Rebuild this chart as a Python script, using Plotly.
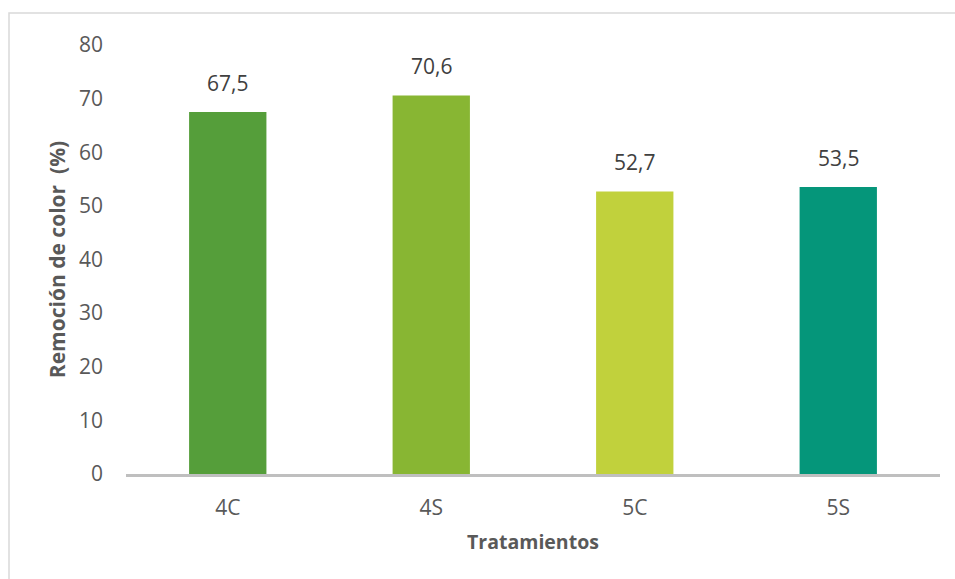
import plotly.graph_objects as go

# Color removal per treatment
tratamientos = ["4C", "4S", "5C", "5S"]
remocion = [67.5, 70.6, 52.7, 53.5]
colores = ["#559E3A", "#88B633", "#C1D13C", "#05967A"]
y_ticks = [0, 10, 20, 30, 40, 50, 60, 70, 80]

FONT = "Open Sans, sans-serif"
W, H = 955, 579
L, R, T, B = 126, 15, 45, 105

fig = go.Figure(
    go.Bar(
        x=tratamientos,
        y=remocion,
        marker=dict(color=colores, line=dict(width=0)),
        hoverinfo="skip",
    )
)

# Value labels sitting above each bar
for cat, val in zip(tratamientos, remocion):
    fig.add_annotation(
        x=cat,
        y=val,
        text=f"{val:.1f}".replace(".", ","),
        showarrow=False,
        yanchor="bottom",
        yshift=13,
        font=dict(family=FONT, size=21, color="#404040"),
    )

pw = W - L - R
ph = H - T - B

def px_x(p):
    return (p - L) / pw

def px_y(p):
    return (H - B - p) / ph

fig.update_layout(
    width=W,
    height=H,
    margin=dict(l=L, r=R, t=T, b=B),
    paper_bgcolor="white",
    plot_bgcolor="white",
    separators=",.",
    bargap=0.62,
    showlegend=False,
    font=dict(family=FONT, size=21, color="#595959"),
    xaxis=dict(
        showgrid=False,
        showline=True,
        linecolor="#BFBFBF",
        linewidth=3,
        ticks="",
        ticklabelstandoff=13,
        tickfont=dict(family=FONT, size=21, color="#595959"),
        title=dict(
            text="<b>Tratamientos</b>",
            font=dict(family=FONT, size=19.5, color="#595959"),
            standoff=16,
        ),
    ),
    yaxis=dict(
        range=[0, 80],
        tickvals=y_ticks,
        showgrid=False,
        zeroline=False,
        showline=False,
        ticks="",
        ticklabelstandoff=22,
        tickfont=dict(family=FONT, size=21, color="#595959"),
        title=dict(
            text="<b>Remoción de color  (%)</b>",
            font=dict(family=FONT, size=21, color="#595959"),
            standoff=7,
        ),
    ),
    shapes=[
        dict(
            type="rect",
            xref="paper",
            yref="paper",
            x0=px_x(9),
            x1=px_x(W + 5),
            y0=px_y(H + 5),
            y1=px_y(13),
            line=dict(color="#D9D9D9", width=1.5),
            fillcolor="rgba(0,0,0,0)",
            layer="below",
        )
    ],
)

fig.write_html("out.html")
